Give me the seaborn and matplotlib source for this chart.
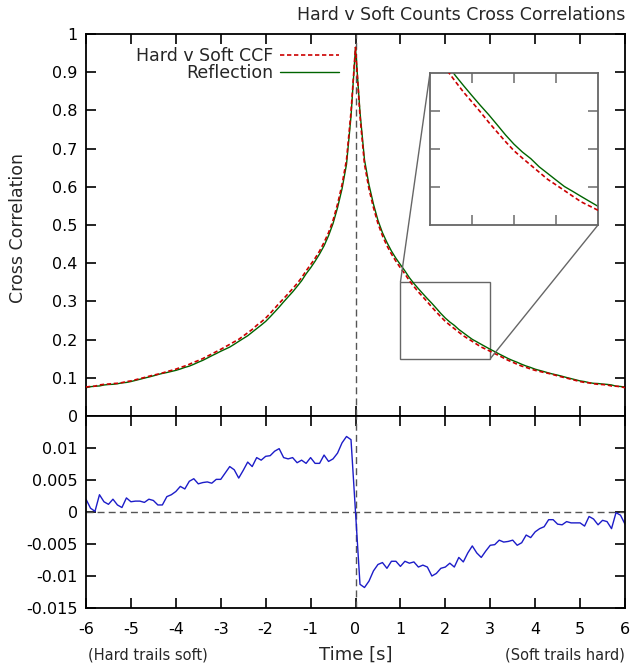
import numpy as np
import pandas as pd
import matplotlib
matplotlib.use("Agg")
import matplotlib.pyplot as plt
import seaborn as sns
from mpl_toolkits.axes_grid1.inset_locator import mark_inset

# ---------------- data ----------------
# time lags [s], 0.1 s sampling from -6 to 6
time_s = np.round(np.arange(-60, 61) / 10.0, 1)

# symmetric part of the CCF for |t| = 0.0, 0.1, ..., 6.0
ccf_sym = [0.965, 0.790, 0.665, 0.600, 0.550, 0.508, 0.476, 0.450, 0.428, 0.409, 0.392,
           0.376, 0.358, 0.343, 0.329, 0.316, 0.303, 0.290, 0.277, 0.264, 0.252,
           0.242, 0.233, 0.223, 0.214, 0.206, 0.198, 0.191, 0.184, 0.178, 0.172,
           0.166, 0.160, 0.154, 0.148, 0.143, 0.138, 0.133, 0.129, 0.125, 0.121,
           0.118, 0.115, 0.112, 0.109, 0.106, 0.103, 0.100, 0.097, 0.094, 0.091,
           0.089, 0.087, 0.085, 0.084, 0.083, 0.082, 0.080, 0.078, 0.077, 0.075]

# CCF minus its reflection (lower panel), t = -6.0 ... 6.0
ccf_minus_refl = [
    0.0020, 0.0006, 0.0001, 0.0027, 0.0016, 0.0012, 0.0020, 0.0011, 0.0007, 0.0022,
    0.0016, 0.0017, 0.0017, 0.0015, 0.0020, 0.0018, 0.0011, 0.0011, 0.0024, 0.0027,
    0.0032, 0.0040, 0.0036, 0.0048, 0.0052, 0.0044, 0.0046, 0.0047, 0.0045, 0.0051,
    0.0051, 0.0061, 0.0071, 0.0066, 0.0053, 0.0065, 0.0078, 0.0071, 0.0085, 0.0081,
    0.0087, 0.0088, 0.0095, 0.0099, 0.0085, 0.0083, 0.0085, 0.0077, 0.0081, 0.0076,
    0.0085, 0.0076, 0.0076, 0.0089, 0.0079, 0.0083, 0.0092, 0.0108, 0.0118, 0.0113,
    0.0000,
    -0.0113, -0.0118, -0.0108, -0.0092, -0.0082, -0.0079, -0.0088, -0.0077, -0.0077, -0.0085,
    -0.0077, -0.0080, -0.0078, -0.0086, -0.0083, -0.0086, -0.0100, -0.0096, -0.0088, -0.0086,
    -0.0080, -0.0086, -0.0071, -0.0078, -0.0064, -0.0053, -0.0064, -0.0071, -0.0061, -0.0052,
    -0.0051, -0.0044, -0.0047, -0.0046, -0.0044, -0.0052, -0.0048, -0.0036, -0.0040, -0.0031,
    -0.0026, -0.0023, -0.0012, -0.0012, -0.0019, -0.0020, -0.0015, -0.0017, -0.0017, -0.0017,
    -0.0022, -0.0007, -0.0011, -0.0020, -0.0013, -0.0015, -0.0026, -0.0001, -0.0005, -0.0019]

top_yticks = [0, 0.1, 0.2, 0.3, 0.4, 0.5, 0.6, 0.7, 0.8, 0.9, 1]
top_ylabels = ["0", "0.1", "0.2", "0.3", "0.4", "0.5", "0.6", "0.7", "0.8", "0.9", "1"]
bot_yticks = [-0.015, -0.01, -0.005, 0, 0.005, 0.01]
bot_ylabels = ["-0.015", "-0.01", "-0.005", "0", "0.005", "0.01"]
xticks = [-6, -5, -4, -3, -2, -1, 0, 1, 2, 3, 4, 5, 6]

# ---------------- build table ----------------
sym_full = np.array(ccf_sym)[np.abs(np.round(time_s * 10)).astype(int)]
diff = np.array(ccf_minus_refl)
df = pd.DataFrame({
    "time": time_s,
    "ccf": sym_full + diff / 2.0,
    "refl": sym_full - diff / 2.0,
    "diff": diff,
})

# ---------------- style ----------------
sns.set_theme(style="ticks")
plt.rcParams["font.family"] = ["DejaVu Sans"]
plt.rcParams["axes.linewidth"] = 1.2
FS = 11.5     # tick labels
FL = 12.5     # other texts

RED = "#cc0000"
GREEN = "#006400"
BLUE = "#1c1cc8"
ZERO = "#555555"
red_ls = (0, (2.6, 1.6))
zero_ls = (0, (5, 3))

W, H = 636, 667
fig = plt.figure(figsize=(W / 100, H / 100), dpi=100)
L, Rr = 86 / W, 625 / W
ax1 = fig.add_axes([L, 1 - 416 / H, Rr - L, (416 - 34) / H])
ax2 = fig.add_axes([L, 1 - 608 / H, Rr - L, (608 - 416) / H])

# ---- top panel ----
ax1.axvline(0, color=ZERO, lw=1.0, ls=zero_ls, zorder=1)
sns.lineplot(data=df, x="time", y="ccf", ax=ax1, color=RED, lw=1.2,
             linestyle=red_ls, label="Hard v Soft CCF", zorder=3)
sns.lineplot(data=df, x="time", y="refl", ax=ax1, color=GREEN, lw=1.0,
             label="Reflection", zorder=2)
ax1.set_xlim(-6, 6)
ax1.set_ylim(0, 1)
ax1.set_xticks(xticks)
ax1.set_xticklabels([])
ax1.set_yticks(top_yticks)
ax1.set_yticklabels(top_ylabels)
ax1.set_xlabel("")
ax1.set_ylabel("")

leg = ax1.legend(loc="upper right", bbox_to_anchor=((339 - 86) / 539, 1 - (47 - 34) / 382),
                 markerfirst=False, frameon=False, fontsize=FL,
                 handlelength=3.4, handletextpad=0.4, labelspacing=-0.05,
                 borderpad=0, borderaxespad=0)

# ---- bottom panel ----
ax2.axvline(0, color=ZERO, lw=1.0, ls=zero_ls, zorder=1)
ax2.axhline(0, color=ZERO, lw=1.0, ls=zero_ls, zorder=1)
sns.lineplot(data=df, x="time", y="diff", ax=ax2, color=BLUE, lw=1.0, zorder=2)
ax2.set_xlim(-6, 6)
ax2.set_ylim(-0.015, 0.015)
ax2.set_xticks(xticks)
ax2.set_xticklabels([str(v) for v in xticks])
ax2.set_yticks(bot_yticks)
ax2.set_yticklabels(bot_ylabels)
ax2.set_xlabel("")
ax2.set_ylabel("")

for ax in (ax1, ax2):
    ax.tick_params(direction="in", length=7, width=1.2, top=True, right=True,
                   labelsize=FS, colors="black", pad=6)
    for s in ax.spines.values():
        s.set_color("black")
        s.set_linewidth(1.3)
ax2.tick_params(axis="x", pad=10)

# ---- inset ----
axins = fig.add_axes([430 / W, 1 - 225 / H, 168 / W, 152 / H])
sns.lineplot(data=df, x="time", y="ccf", ax=axins, color=RED, lw=1.2,
             linestyle=red_ls, zorder=3)
sns.lineplot(data=df, x="time", y="refl", ax=axins, color=GREEN, lw=1.0, zorder=2)
axins.set_xlim(1, 3)
axins.set_ylim(0.15, 0.35)
axins.set_xticks([1.5, 2, 2.5])
axins.set_yticks([0.2, 0.25, 0.3])
axins.set_xticklabels([])
axins.set_yticklabels([])
axins.set_xlabel("")
axins.set_ylabel("")
axins.tick_params(direction="in", length=7, width=1.2, top=True, right=True,
                  colors="#777777")
for s in axins.spines.values():
    s.set_color("#666666")
    s.set_linewidth(1.3)
mark_inset(ax1, axins, loc1=2, loc2=4, fc="none", ec="#666666", lw=1.0)

# ---- texts ----
fig.text(625 / W, 1 - 15 / H, "Hard v Soft Counts Cross Correlations",
         ha="right", va="center", fontsize=FL)
fig.text(18 / W, 1 - 228 / H, "Cross Correlation", rotation=90,
         ha="center", va="center", fontsize=FL)
fig.text(355.7 / W, 1 - 655 / H, "Time [s]", ha="center", va="center", fontsize=FL + 0.5)
fig.text(88 / W, 1 - 655 / H, "(Hard trails soft)", ha="left", va="center", fontsize=FS - 1)
fig.text(625 / W, 1 - 655 / H, "(Soft trails hard)", ha="right", va="center", fontsize=FS - 1)

fig.savefig("out.png", dpi=100, facecolor="white")
